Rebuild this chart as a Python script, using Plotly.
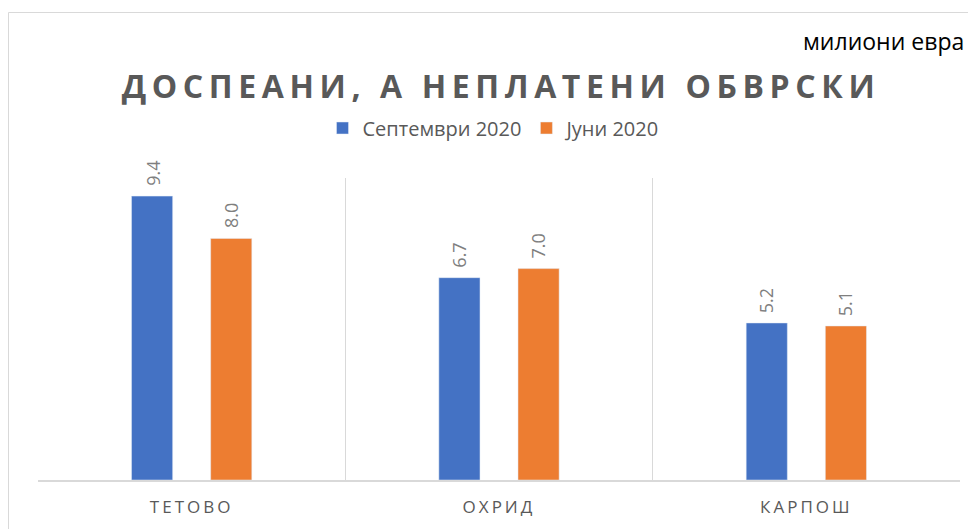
import plotly.graph_objects as go

categories = ["ТЕТОВО", "ОХРИД", "КАРПОШ"]
sep_2020 = [9.4, 6.7, 5.2]
jun_2020 = [8.0, 7.0, 5.1]
series_names = ["Септември 2020", "Јуни 2020"]
colors = ["#4472C4", "#ED7D31"]

OFF = 8  # page body margin
W, H = 968, 521
L, R, T, B = 30, 16, 170, 49
pw, ph = W - L - R, H - T - B

def px_x(x):  # page x -> paper
    return (x - OFF - L) / pw

def px_y(y):  # page y -> paper
    return (H - B - (y - OFF)) / ph

fig = go.Figure()
for name, vals, col in zip(series_names, [sep_2020, jun_2020], colors):
    fig.add_trace(go.Bar(x=categories, y=vals, name=name, marker_color=col))

annotations = []
for shift, vals in zip([-39.5, 39.5], [sep_2020, jun_2020]):
    for c, v in zip(categories, vals):
        annotations.append(dict(
            x=c, y=v, xref="x", yref="y", text=f"{v:.1f}", showarrow=False,
            textangle=-90, xanchor="center", yanchor="bottom", xshift=shift, yshift=8,
            font=dict(family="Open Sans, sans-serif", size=18, color="#7f7f7f")))

annotations.append(dict(text="милиони евра", xref="paper", yref="paper", x=px_x(966), y=px_y(41),
                        xanchor="right", yanchor="middle", showarrow=False,
                        font=dict(family="Open Sans, sans-serif", size=23, color="#000000")))

fig.update_layout(
    width=W, height=H,
    margin=dict(l=L, r=R, t=T, b=B),
    paper_bgcolor="white", plot_bgcolor="white",
    barmode="group", bargap=0.485, bargroupgap=0.48,
    title=dict(text="<b>ДОСПЕАНИ, А НЕПЛАТЕНИ ОБВРСКИ</b>", xref="paper", x=px_x(501), xanchor="center",
               y=1 - (87 - OFF) / H, yanchor="middle",
               font=dict(family="Open Sans, sans-serif", size=32, color="#595959")),
    legend=dict(orientation="h", x=px_x(494), xanchor="center", y=px_y(128), yanchor="middle",
                font=dict(family="Open Sans, sans-serif", size=20, color="#595959"),
                itemwidth=30, traceorder="normal"),
    xaxis=dict(tickson="boundaries", showgrid=True, gridcolor="#d9d9d9", gridwidth=1,
               showline=True, linecolor="#d9d9d9", linewidth=2, ticks="",
               tickfont=dict(family="Open Sans, sans-serif", size=17, color="#595959"),
               ticklabelstandoff=11),
    yaxis=dict(range=[0, 10], showgrid=False, showticklabels=False, zeroline=False, showline=False),
    annotations=annotations,
    shapes=[dict(type="rect", xref="paper", yref="paper", x0=px_x(8.5), x1=px_x(1000),
                 y0=px_y(560), y1=px_y(12.5), line=dict(color="#d9d9d9", width=1), layer="below")],
)

post = """
var gd = document.getElementById('{plot_id}');
function spacing() {
  gd.querySelectorAll('.gtitle').forEach(function(t){ t.style.letterSpacing = '5.6px'; });
  gd.querySelectorAll('.xtick text').forEach(function(t){ t.style.letterSpacing = '3px'; });
}
spacing();
if (gd.on) { gd.on('plotly_afterplot', spacing); }
setTimeout(spacing, 50);
"""

fig.write_html("out.html", post_script=post)
